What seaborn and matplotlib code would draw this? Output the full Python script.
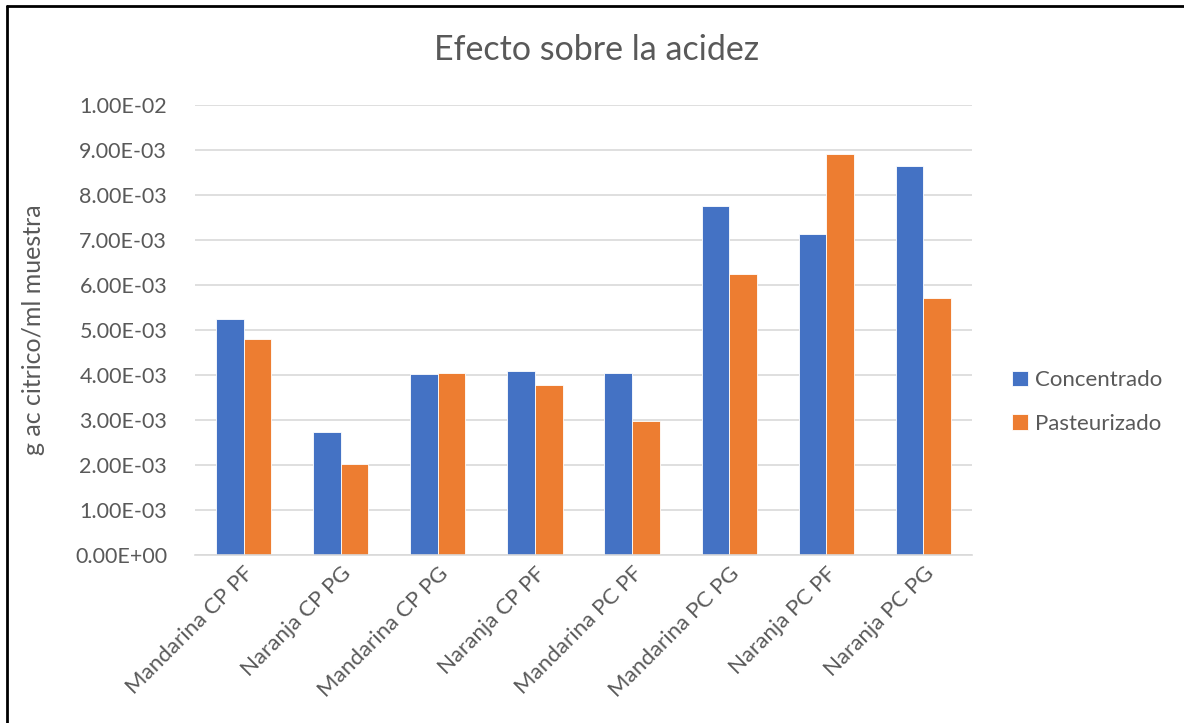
import matplotlib
matplotlib.use("Agg")
import matplotlib.pyplot as plt
from matplotlib.lines import Line2D
from matplotlib.ticker import FuncFormatter, MultipleLocator
import seaborn as sns
import pandas as pd

# Sample labels and measured acidity (g citric acid / ml sample)
categories = ["Mandarina CP PF", "Naranja CP PG", "Mandarina CP PG", "Naranja CP PF",
              "Mandarina PC PF", "Mandarina PC PG", "Naranja PC PF", "Naranja PC PG"]
concentrado = [5.24e-3, 2.73e-3, 4.02e-3, 4.10e-3, 4.04e-3, 7.75e-3, 7.14e-3, 8.65e-3]
pasteurizado = [4.79e-3, 2.02e-3, 4.04e-3, 3.77e-3, 2.98e-3, 6.25e-3, 8.92e-3, 5.72e-3]
series = ["Concentrado", "Pasteurizado"]
colors = ["#4472C4", "#ED7D31"]

df = pd.DataFrame({
    "muestra": categories * 2,
    "valor": concentrado + pasteurizado,
    "serie": [series[0]] * len(categories) + [series[1]] * len(categories),
})

sns.set_theme(style="white")
plt.rcParams["font.family"] = ["Lato", "DejaVu Sans"]
text_color = "#595959"
grid_color = "#D9D9D9"

fig = plt.figure(figsize=(11.84, 7.23), dpi=100)
ax = fig.add_axes([195 / 1184, 1 - 555 / 723, 777 / 1184, 450 / 723])

sns.barplot(data=df, x="muestra", y="valor", hue="serie", order=categories,
            hue_order=series, palette=colors, width=0.57, gap=0.0,
            saturation=1, ax=ax, legend=True)
for patch in ax.patches:
    patch.set_edgecolor("white")
    patch.set_linewidth(0.6)

ax.set_ylim(0, 0.01)
ax.yaxis.set_major_locator(MultipleLocator(0.001))
ax.yaxis.set_major_formatter(FuncFormatter(lambda v, p: f"{v:.2E}"))
ax.grid(axis="y", color=grid_color, linewidth=1.2)
ax.set_axisbelow(True)
for side in ["top", "right", "left"]:
    ax.spines[side].set_visible(False)
ax.spines["bottom"].set_color(grid_color)
ax.spines["bottom"].set_linewidth(1.2)
ax.tick_params(axis="y", length=0, colors=text_color, labelsize=15.5, pad=20)
ax.tick_params(axis="x", length=0, colors=text_color, labelsize=16, pad=6)
plt.setp(ax.get_xticklabels(), rotation=45, ha="right", rotation_mode="anchor")

ax.set_xlabel("")
ax.set_ylabel("g ac citrico/ml muestra", color=text_color, fontsize=18)
ax.yaxis.set_label_coords(-150 / 777, 0.5)

fig.text(597 / 1184, 1 - 50 / 723, "Efecto sobre la acidez", ha="center", va="center",
         color=text_color, fontsize=24.5)

handles, labels = ax.get_legend_handles_labels()
leg = ax.legend(handles, labels, loc="center left", frameon=False, fontsize=16,
                labelcolor=text_color, handlelength=0.7, handleheight=0.7,
                handletextpad=0.35, labelspacing=1.05, borderpad=0, borderaxespad=0)
leg.set_bbox_to_anchor((1 + 40 / 777, 0.34), transform=ax.transAxes)

# Outer frame lines along the top and left edges
fig.add_artist(Line2D([7 / 1184, 7 / 1184], [0, 1 - 6 / 723], color="black", linewidth=2,
                      transform=fig.transFigure))
fig.add_artist(Line2D([7 / 1184, 1], [1 - 6 / 723, 1 - 6 / 723], color="black", linewidth=2,
                      transform=fig.transFigure))

fig.savefig("out.png", dpi=100, facecolor="white")
